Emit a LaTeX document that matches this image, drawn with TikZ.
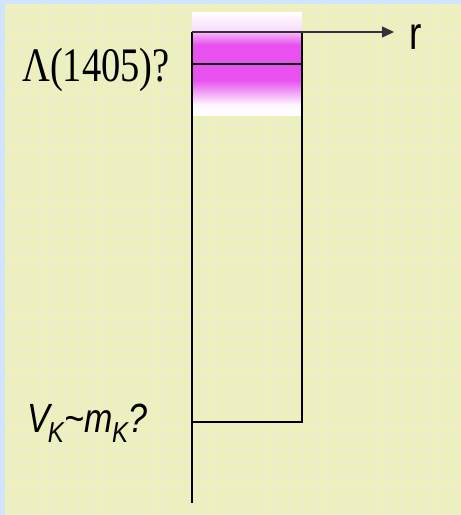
\documentclass[tikz,border=0pt]{standalone}
\usepackage{fontspec}
\setmainfont{Liberation Serif}
\newfontfamily\arialfont{Liberation Sans}
\usetikzlibrary{arrows.meta}
\definecolor{mag}{RGB}{232,80,240}
\definecolor{bgblue}{RGB}{208,228,255}
\definecolor{bgyel}{RGB}{234,238,202}
\definecolor{gridyel}{RGB}{244,242,165}
\colorlet{magA}{mag!5}
\colorlet{magB}{mag!50}
\colorlet{magC}{mag!20}
\pgfdeclareverticalshading{lamshade}{100bp}{color(0bp)=(white); color(25bp)=(white); color(30bp)=(magA); color(42bp)=(mag); color(59bp)=(mag); color(64.3bp)=(magB); color(66.3bp)=(magC); color(75bp)=(white); color(100bp)=(white)}
\tikzset{
  wall/.style={line width=1.2pt, black},
  lbl/.style={inner sep=0pt, anchor=base west},
}
\newcommand{\subK}{\raisebox{-9pt}{\fontsize{24}{26}\selectfont K}}
\begin{document}
\begin{tikzpicture}[x=1pt,y=-1pt]
\useasboundingbox (0,0) rectangle (461,515);
\fill[bgblue] (0,0) rectangle (461,515);
\fill[bgyel] (5,4) rectangle (461,515);
\begin{scope}
\clip (5,4) rectangle (461,515);
\foreach \i in {0,...,66} {
  \draw[gridyel, line width=0.6pt] ({5+7*\i},4) -- ({5+7*\i},515);
}
\foreach \j in {0,...,73} {
  \draw[gridyel, line width=0.6pt] (5,{4+7*\j}) -- (461,{4+7*\j});
}
\end{scope}
% shaded region
\shade[shading=lamshade] (192,12) rectangle (302,115);
% coordinates
\coordinate (tl) at (192,32);
\coordinate (tr) at (302,32);
\coordinate (ml) at (192,64);
\coordinate (mr) at (302,64);
\coordinate (bl) at (192,422);
\coordinate (br) at (302,422);
\coordinate (bot) at (192,503);
\coordinate (tip) at (394,32);
\draw[wall] (tl) -- (bot);
\draw[wall] (tr) -- (br) -- (bl);
\draw[wall] (ml) -- (mr);
\draw[line width=1.2pt, black!80, -{Triangle[length=12pt,width=11pt]}] (tl) -- (tip);
\node[lbl] (r) at (409,49) {\arialfont\scalebox{1}[1.25]{\fontsize{37}{40}\selectfont r}};
\node[lbl] (lam) at (22,81) {\scalebox{1}[1.25]{\fontsize{38.5}{40}\selectfont Λ(1405)?}};
\node[lbl] (vk) at (27,432) {\arialfont\itshape\scalebox{1}[1.2]{\fontsize{34}{40}\selectfont V\kern-2pt\subK\kern1pt\char`\~m\kern-1pt\subK?}};
\end{tikzpicture}
\end{document}
